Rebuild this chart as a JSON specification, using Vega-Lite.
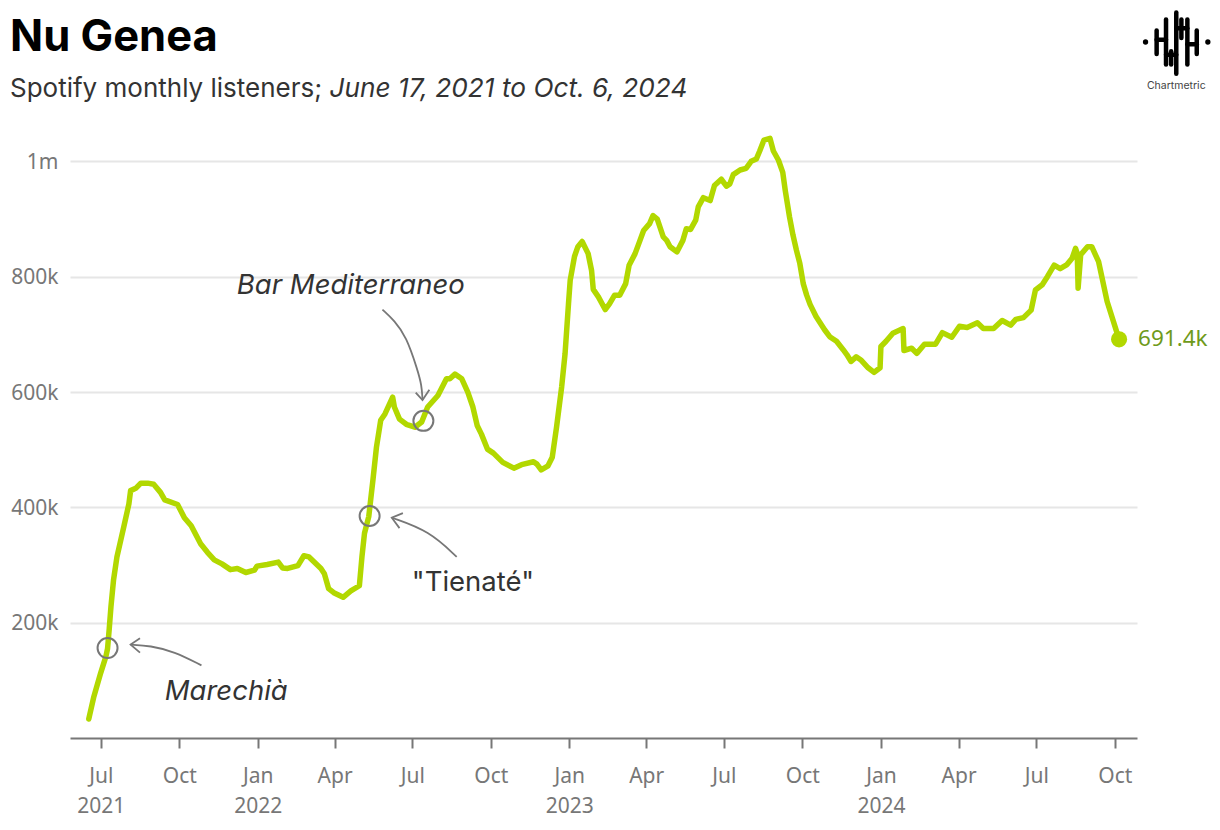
{"$schema":"https://vega.github.io/schema/vega-lite/v6.json","width":1067,"height":617,"autosize":{"type":"none"},"padding":{"left":70,"top":121,"right":83,"bottom":92},"background":"white","title":{"text":"Nu Genea","subtitle":"Spotify monthly listeners;","anchor":"start","frame":"group","dx":-60,"offset":-93,"font":"Inter","fontSize":43.5,"fontWeight":700,"color":"#000","subtitleFont":"Inter","subtitleFontSize":26,"subtitleColor":"#333","subtitleFontWeight":400,"subtitlePadding":16},"config":{"view":{"stroke":null},"font":"Inter"},"datasets":{"series":[{"date":"2021-06-17","listeners":33000},{"date":"2021-06-23","listeners":72000},{"date":"2021-07-01","listeners":113000},{"date":"2021-07-07","listeners":141000},{"date":"2021-07-09","listeners":155000},{"date":"2021-07-11","listeners":190000},{"date":"2021-07-13","listeners":228000},{"date":"2021-07-16","listeners":274000},{"date":"2021-07-20","listeners":314000},{"date":"2021-07-28","listeners":366000},{"date":"2021-08-03","listeners":406000},{"date":"2021-08-05","listeners":429000},{"date":"2021-08-11","listeners":433000},{"date":"2021-08-17","listeners":442000},{"date":"2021-08-25","listeners":442000},{"date":"2021-09-01","listeners":440000},{"date":"2021-09-09","listeners":426000},{"date":"2021-09-14","listeners":413000},{"date":"2021-09-29","listeners":405000},{"date":"2021-10-07","listeners":382000},{"date":"2021-10-15","listeners":368000},{"date":"2021-10-26","listeners":337000},{"date":"2021-11-03","listeners":322000},{"date":"2021-11-11","listeners":309000},{"date":"2021-11-20","listeners":302000},{"date":"2021-11-30","listeners":292000},{"date":"2021-12-08","listeners":294000},{"date":"2021-12-18","listeners":287000},{"date":"2021-12-28","listeners":291000},{"date":"2021-12-31","listeners":298000},{"date":"2022-01-12","listeners":301000},{"date":"2022-01-25","listeners":305000},{"date":"2022-01-30","listeners":295000},{"date":"2022-02-05","listeners":294000},{"date":"2022-02-17","listeners":299000},{"date":"2022-02-24","listeners":316000},{"date":"2022-03-02","listeners":314000},{"date":"2022-03-16","listeners":294000},{"date":"2022-03-20","listeners":285000},{"date":"2022-03-25","listeners":259000},{"date":"2022-03-31","listeners":252000},{"date":"2022-04-11","listeners":244000},{"date":"2022-04-20","listeners":255000},{"date":"2022-04-30","listeners":264000},{"date":"2022-05-03","listeners":314000},{"date":"2022-05-06","listeners":355000},{"date":"2022-05-11","listeners":384000},{"date":"2022-05-16","listeners":449000},{"date":"2022-05-20","listeners":504000},{"date":"2022-05-25","listeners":551000},{"date":"2022-05-30","listeners":562000},{"date":"2022-06-08","listeners":591000},{"date":"2022-06-10","listeners":574000},{"date":"2022-06-16","listeners":553000},{"date":"2022-06-24","listeners":544000},{"date":"2022-07-04","listeners":539000},{"date":"2022-07-12","listeners":548000},{"date":"2022-07-19","listeners":574000},{"date":"2022-07-31","listeners":594000},{"date":"2022-08-10","listeners":623000},{"date":"2022-08-14","listeners":623000},{"date":"2022-08-20","listeners":631000},{"date":"2022-08-28","listeners":623000},{"date":"2022-09-04","listeners":600000},{"date":"2022-09-10","listeners":574000},{"date":"2022-09-15","listeners":542000},{"date":"2022-09-20","listeners":527000},{"date":"2022-09-27","listeners":501000},{"date":"2022-10-04","listeners":494000},{"date":"2022-10-15","listeners":478000},{"date":"2022-10-28","listeners":468000},{"date":"2022-11-06","listeners":474000},{"date":"2022-11-20","listeners":479000},{"date":"2022-11-24","listeners":475000},{"date":"2022-11-29","listeners":465000},{"date":"2022-12-07","listeners":472000},{"date":"2022-12-12","listeners":487000},{"date":"2022-12-17","listeners":539000},{"date":"2022-12-23","listeners":609000},{"date":"2022-12-27","listeners":667000},{"date":"2022-12-31","listeners":753000},{"date":"2023-01-02","listeners":794000},{"date":"2023-01-07","listeners":835000},{"date":"2023-01-11","listeners":852000},{"date":"2023-01-16","listeners":861000},{"date":"2023-01-23","listeners":840000},{"date":"2023-01-27","listeners":811000},{"date":"2023-01-29","listeners":778000},{"date":"2023-02-04","listeners":765000},{"date":"2023-02-12","listeners":743000},{"date":"2023-02-17","listeners":753000},{"date":"2023-02-23","listeners":768000},{"date":"2023-03-01","listeners":768000},{"date":"2023-03-08","listeners":788000},{"date":"2023-03-12","listeners":820000},{"date":"2023-03-19","listeners":840000},{"date":"2023-03-24","listeners":860000},{"date":"2023-03-29","listeners":880000},{"date":"2023-04-05","listeners":892000},{"date":"2023-04-09","listeners":906000},{"date":"2023-04-14","listeners":900000},{"date":"2023-04-21","listeners":869000},{"date":"2023-04-25","listeners":863000},{"date":"2023-04-29","listeners":852000},{"date":"2023-05-07","listeners":843000},{"date":"2023-05-14","listeners":863000},{"date":"2023-05-18","listeners":883000},{"date":"2023-05-23","listeners":882000},{"date":"2023-05-29","listeners":898000},{"date":"2023-06-01","listeners":921000},{"date":"2023-06-07","listeners":937000},{"date":"2023-06-15","listeners":932000},{"date":"2023-06-20","listeners":958000},{"date":"2023-06-28","listeners":969000},{"date":"2023-07-04","listeners":957000},{"date":"2023-07-08","listeners":961000},{"date":"2023-07-12","listeners":977000},{"date":"2023-07-20","listeners":985000},{"date":"2023-07-27","listeners":988000},{"date":"2023-08-02","listeners":1000000},{"date":"2023-08-08","listeners":1004000},{"date":"2023-08-12","listeners":1018000},{"date":"2023-08-17","listeners":1037000},{"date":"2023-08-24","listeners":1040000},{"date":"2023-08-28","listeners":1018000},{"date":"2023-09-03","listeners":1002000},{"date":"2023-09-08","listeners":981000},{"date":"2023-09-11","listeners":949000},{"date":"2023-09-16","listeners":903000},{"date":"2023-09-20","listeners":872000},{"date":"2023-09-24","listeners":846000},{"date":"2023-09-28","listeners":823000},{"date":"2023-10-02","listeners":788000},{"date":"2023-10-06","listeners":768000},{"date":"2023-10-10","listeners":752000},{"date":"2023-10-17","listeners":731000},{"date":"2023-10-27","listeners":708000},{"date":"2023-11-02","listeners":696000},{"date":"2023-11-10","listeners":688000},{"date":"2023-11-18","listeners":673000},{"date":"2023-11-22","listeners":665000},{"date":"2023-11-27","listeners":653000},{"date":"2023-12-03","listeners":661000},{"date":"2023-12-09","listeners":655000},{"date":"2023-12-17","listeners":642000},{"date":"2023-12-24","listeners":634000},{"date":"2023-12-31","listeners":642000},{"date":"2024-01-01","listeners":679000},{"date":"2024-01-07","listeners":688000},{"date":"2024-01-15","listeners":702000},{"date":"2024-01-27","listeners":710000},{"date":"2024-01-28","listeners":672000},{"date":"2024-02-06","listeners":676000},{"date":"2024-02-12","listeners":667000},{"date":"2024-02-21","listeners":683000},{"date":"2024-03-05","listeners":683000},{"date":"2024-03-13","listeners":703000},{"date":"2024-03-24","listeners":695000},{"date":"2024-04-02","listeners":714000},{"date":"2024-04-11","listeners":712000},{"date":"2024-04-23","listeners":720000},{"date":"2024-04-30","listeners":710000},{"date":"2024-05-12","listeners":710000},{"date":"2024-05-22","listeners":724000},{"date":"2024-06-01","listeners":716000},{"date":"2024-06-07","listeners":726000},{"date":"2024-06-16","listeners":729000},{"date":"2024-06-25","listeners":742000},{"date":"2024-06-30","listeners":777000},{"date":"2024-07-08","listeners":786000},{"date":"2024-07-14","listeners":800000},{"date":"2024-07-22","listeners":820000},{"date":"2024-07-29","listeners":814000},{"date":"2024-08-06","listeners":821000},{"date":"2024-08-12","listeners":832000},{"date":"2024-08-16","listeners":849000},{"date":"2024-08-18","listeners":840000},{"date":"2024-08-19","listeners":780000},{"date":"2024-08-22","listeners":838000},{"date":"2024-08-30","listeners":852000},{"date":"2024-09-04","listeners":852000},{"date":"2024-09-12","listeners":826000},{"date":"2024-09-22","listeners":757000},{"date":"2024-10-06","listeners":691400}],"curves":[{"id":"m","seq":1,"date":"2021-10-27","listeners":126000},{"id":"m","seq":2,"date":"2021-09-25","listeners":150000},{"id":"m","seq":3,"date":"2021-08-28","listeners":160000},{"id":"m","seq":4,"date":"2021-08-05","listeners":162000},{"id":"t","seq":1,"date":"2022-08-22","listeners":314000},{"id":"t","seq":2,"date":"2022-07-21","listeners":359000},{"id":"t","seq":3,"date":"2022-06-07","listeners":382000},{"id":"b","seq":1,"date":"2022-05-27","listeners":743000},{"id":"b","seq":2,"date":"2022-06-10","listeners":724000},{"id":"b","seq":3,"date":"2022-06-24","listeners":696000},{"id":"b","seq":4,"date":"2022-07-07","listeners":639000},{"id":"b","seq":5,"date":"2022-07-12","listeners":612000},{"id":"b","seq":6,"date":"2022-07-13","listeners":586000}],"heads":[{"id":"mh","seq":1,"date":"2021-08-16","listeners":173000},{"id":"mh","seq":2,"date":"2021-08-05","listeners":162000},{"id":"mh","seq":3,"date":"2021-08-16","listeners":148000},{"id":"th","seq":1,"date":"2022-06-20","listeners":390000},{"id":"th","seq":2,"date":"2022-06-07","listeners":382000},{"id":"th","seq":3,"date":"2022-06-16","listeners":364000},{"id":"bh","seq":1,"date":"2022-07-05","listeners":599000},{"id":"bh","seq":2,"date":"2022-07-13","listeners":586000},{"id":"bh","seq":3,"date":"2022-07-21","listeners":604000}],"markers":[{"date":"2021-07-09","listeners":156000},{"date":"2022-05-12","listeners":385000},{"date":"2022-07-14","listeners":550000}],"notesItalic":[{"date":"2021-11-25","listeners":80000,"label":"Marechià"},{"date":"2022-04-20","listeners":784000,"label":"Bar Mediterraneo"}],"notesPlain":[{"date":"2022-09-10","listeners":268000,"label":"\"Tienaté\""}],"last":[{"date":"2024-10-06","listeners":691400,"label":"691.4k"}],"range":[{"date":"2022-03-26","listeners":1112000,"label":"June 17, 2021 to Oct. 6, 2024"}],"brand":[{"date":"2024-12-12","listeners":1131000,"label":"Chartmetric"}],"logoDots":[{"date":"2024-11-06","listeners":1207000},{"date":"2025-01-18","listeners":1207000}],"logoBars":[{"d1":"2024-11-19","d2":"2024-11-19","v1":1227000,"v2":1186000},{"d1":"2024-11-30","d2":"2024-11-30","v1":1246000,"v2":1168000},{"d1":"2024-12-06","d2":"2024-12-06","v1":1191000,"v2":1168000},{"d1":"2024-12-12","d2":"2024-12-12","v1":1258000,"v2":1152000},{"d1":"2024-12-18","d2":"2024-12-18","v1":1246000,"v2":1214000},{"d1":"2024-12-25","d2":"2024-12-25","v1":1246000,"v2":1168000},{"d1":"2025-01-05","d2":"2025-01-05","v1":1227000,"v2":1186000},{"d1":"2024-11-19","d2":"2024-11-30","v1":1211000,"v2":1211000},{"d1":"2024-11-30","d2":"2024-12-12","v1":1185000,"v2":1185000},{"d1":"2024-12-12","d2":"2024-12-25","v1":1231000,"v2":1231000},{"d1":"2024-12-25","d2":"2025-01-05","v1":1203000,"v2":1203000}]},"encoding":{"x":{"field":"date","type":"temporal","scale":{"domain":["2021-05-26","2024-10-27"]},"axis":{"title":null,"grid":false,"tickCount":{"interval":"month","step":3},"labelExpr":"month(datum.value)==0 || timeFormat(datum.value,'%Y-%m')=='2021-07' ? [timeFormat(datum.value,'%b'),timeFormat(datum.value,'%Y')] : timeFormat(datum.value,'%b')","labelFont":"Noto Sans","labelFontSize":21,"labelColor":"#777","labelLineHeight":30,"labelPadding":17,"labelOverlap":false,"labelBound":false,"labelFlush":false,"domainColor":"#777","domainWidth":2,"tickColor":"#777","tickWidth":2,"tickSize":10}},"y":{"field":"listeners","type":"quantitative","scale":{"domain":[0,1070000],"nice":false},"axis":{"title":null,"values":[200000,400000,600000,800000,1000000],"labelExpr":"datum.value>=1000000 ? '1m' : (datum.value/1000)+'k'","labelFont":"Noto Sans","labelFontSize":21,"labelColor":"#777","labelPadding":12,"labelOffset":1,"domain":false,"ticks":false,"grid":true,"gridColor":"#e6e6e6","gridWidth":2}}},"layer":[{"data":{"name":"curves"},"mark":{"type":"line","stroke":"#777","strokeWidth":1.8,"interpolate":"basis","fill":null},"encoding":{"detail":{"field":"id"},"order":{"field":"seq","type":"ordinal"}}},{"data":{"name":"heads"},"mark":{"type":"line","stroke":"#777","strokeWidth":1.8,"fill":null},"encoding":{"detail":{"field":"id"},"order":{"field":"seq","type":"ordinal"}}},{"data":{"name":"series"},"mark":{"type":"line","stroke":"#b2d800","strokeWidth":5.5,"strokeJoin":"round","strokeCap":"round"}},{"data":{"name":"markers"},"mark":{"type":"point","shape":"circle","size":400,"filled":false,"stroke":"#777","strokeWidth":2,"opacity":1}},{"data":{"name":"last"},"mark":{"type":"point","shape":"circle","size":260,"filled":true,"color":"#b2d800","opacity":1}},{"data":{"name":"last"},"mark":{"type":"text","align":"left","baseline":"middle","dx":19,"font":"Noto Sans","fontSize":22.5,"color":"#6f9a1a"},"encoding":{"text":{"field":"label"}}},{"data":{"name":"notesItalic"},"mark":{"type":"text","align":"center","baseline":"middle","font":"Inter","fontSize":27.5,"fontStyle":"italic","color":"#333"},"encoding":{"text":{"field":"label"}}},{"data":{"name":"notesPlain"},"mark":{"type":"text","align":"center","baseline":"middle","font":"Inter","fontSize":27.5,"color":"#333"},"encoding":{"text":{"field":"label"}}},{"data":{"name":"range"},"mark":{"type":"text","align":"left","baseline":"alphabetic","font":"Inter","fontSize":26.25,"fontStyle":"italic","color":"#333"},"encoding":{"text":{"field":"label"}}},{"data":{"name":"brand"},"mark":{"type":"text","align":"center","baseline":"middle","font":"Inter","fontSize":10.5,"color":"#444"},"encoding":{"text":{"field":"label"}}},{"data":{"name":"logoDots"},"mark":{"type":"point","shape":"circle","size":28,"filled":true,"color":"#000","opacity":1}},{"data":{"name":"logoBars"},"mark":{"type":"rule","stroke":"#000","strokeWidth":4.5,"strokeCap":"round"},"encoding":{"x":{"field":"d1","type":"temporal"},"x2":{"field":"d2"},"y":{"field":"v1","type":"quantitative"},"y2":{"field":"v2"}}}]}
